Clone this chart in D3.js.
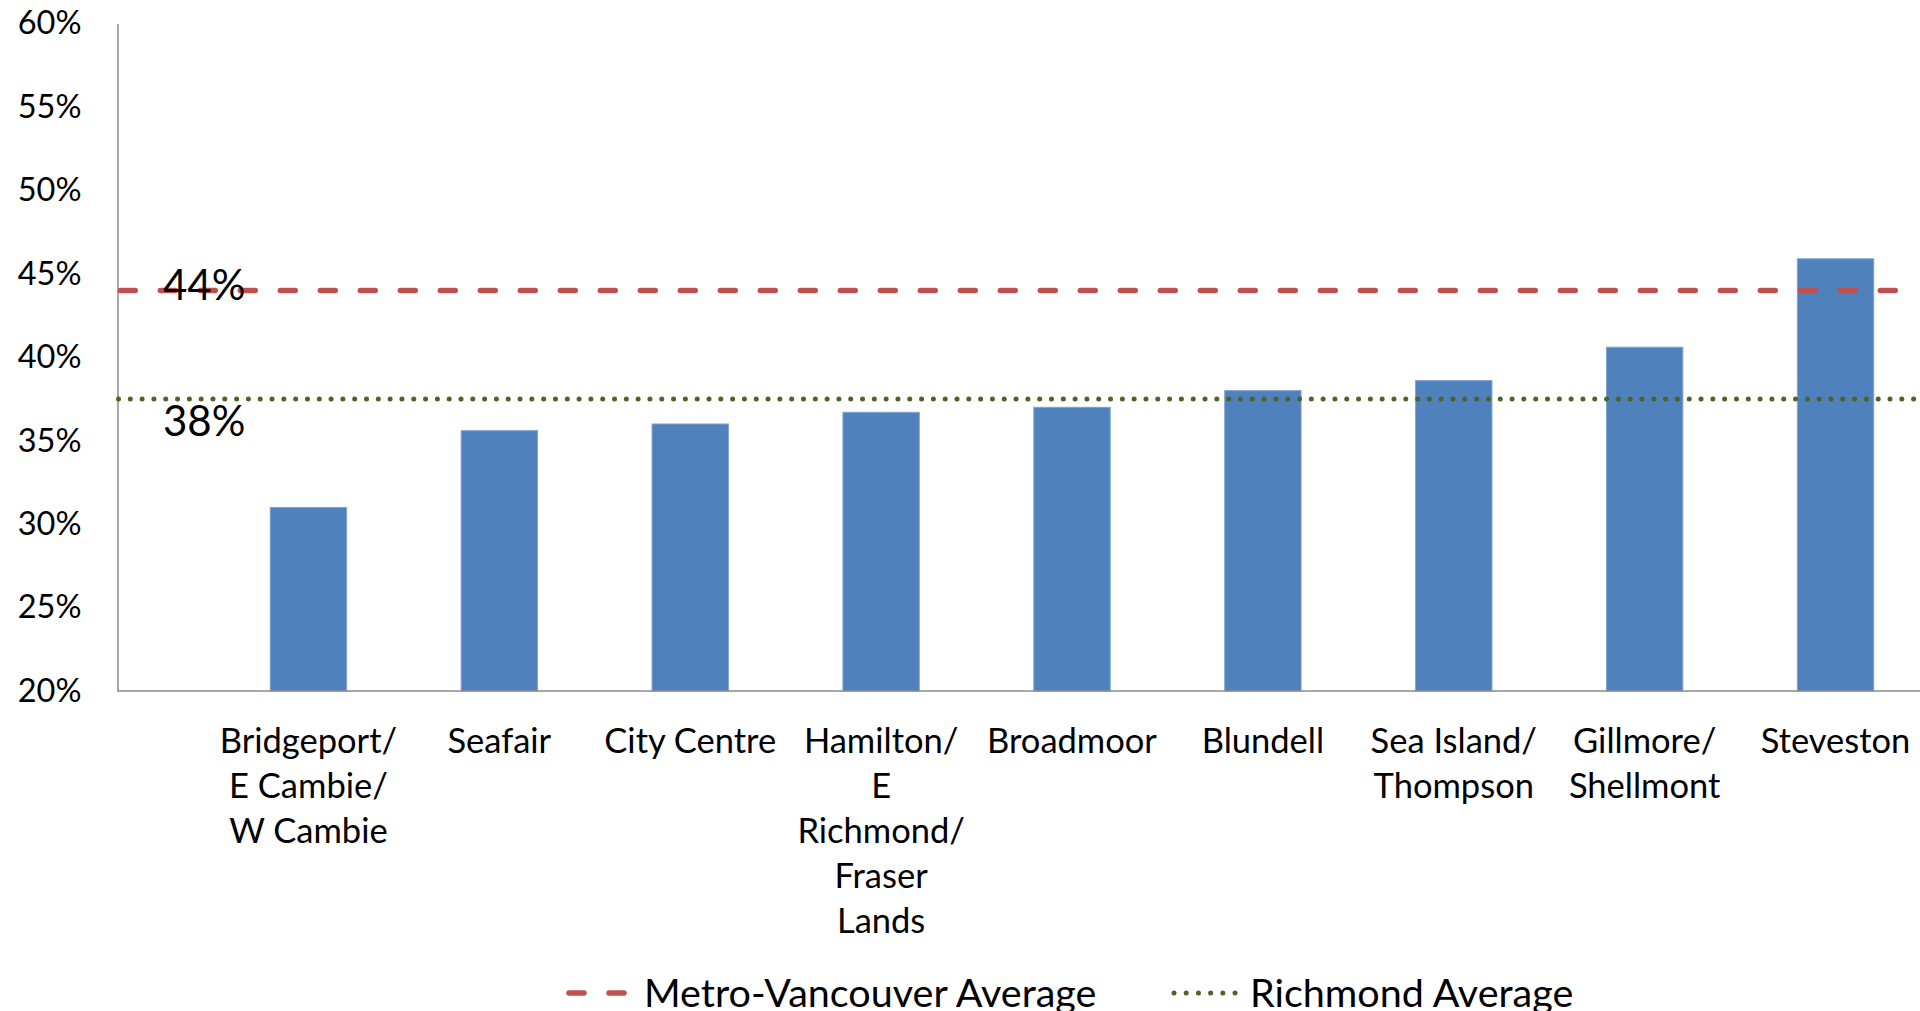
<!DOCTYPE html>
<html>
<head>
<meta charset="utf-8">
<script src="https://cdn.jsdelivr.net/npm/d3@7"></script>
<style>
  html, body { margin: 0; padding: 0; background: #fff; overflow: hidden; }
  svg { display: block; font-family: Lato, "Open Sans", sans-serif; }
</style>
</head>
<body>
<svg id="chart" width="1920" height="1011"></svg>
<script>
// Neighbourhood shares (fraction of households)
const categories = [
  "Bridgeport/\nE Cambie/\nW Cambie",
  "Seafair",
  "City Centre",
  "Hamilton/\nE\nRichmond/\nFraser\nLands",
  "Broadmoor",
  "Blundell",
  "Sea Island/\nThompson",
  "Gillmore/\nShellmont",
  "Steveston"
];
const values = [0.310, 0.356, 0.360, 0.367, 0.370, 0.380, 0.386, 0.406, 0.459];

// Reference averages
const metroAverage = 0.44;
const richmondAverage = 0.375;

// Axis ticks
const yTicks = [0.20, 0.25, 0.30, 0.35, 0.40, 0.45, 0.50, 0.55, 0.60];

const legendLabels = ["Metro-Vancouver Average", "Richmond Average"];

const W = 1920, H = 1011;
const axisX = 117.5, baseY = 691, topY = 23.5;

const svg = d3.select("#chart");
const pct = d3.format(".0%");

const y = d3.scaleLinear().domain([0.2, 0.6]).range([baseY, topY]);
const x = d3.scaleBand()
  .domain(categories)
  .range([213, 1931])
  .paddingInner(0.6)
  .paddingOuter(0.3);

// Bars
svg.append("g").selectAll("rect")
  .data(values)
  .join("rect")
  .attr("x", (d, i) => x(categories[i]))
  .attr("y", d => y(d))
  .attr("width", x.bandwidth())
  .attr("height", d => baseY - y(d))
  .attr("fill", "#4F81BD")
  .attr("stroke", "#7FA2D0")
  .attr("stroke-width", 1);

// Y axis
const yAxis = svg.append("g")
  .attr("transform", `translate(${axisX},0)`)
  .call(d3.axisLeft(y).tickValues(yTicks).tickFormat(pct).tickSize(0).tickSizeOuter(0).tickPadding(36));
yAxis.select(".domain").attr("stroke", "#8A8A8A").attr("stroke-width", 1.5);
yAxis.selectAll("text")
  .attr("font-family", "Lato, sans-serif")
  .attr("font-size", 32.5)
  .attr("fill", "#000");

// Baseline
svg.append("line")
  .attr("x1", axisX).attr("x2", W)
  .attr("y1", baseY).attr("y2", baseY)
  .attr("stroke", "#8A8A8A").attr("stroke-width", 1.5);

// Category labels
const xAxis = svg.append("g")
  .attr("transform", `translate(0,${baseY})`)
  .call(d3.axisBottom(x).tickSize(0).tickSizeOuter(0).tickFormat(""));
xAxis.select(".domain").remove();
xAxis.selectAll(".tick").each(function(d) {
  const t = d3.select(this).append("text")
    .attr("text-anchor", "middle")
    .attr("font-family", "Lato, sans-serif")
    .attr("font-size", 34.5)
    .attr("fill", "#000");
  d.split("\n").forEach((line, k) => {
    t.append("tspan").attr("x", 0).attr("y", 61.5 + k * 45.2).text(line);
  });
});

// Average lines
svg.append("line")
  .attr("x1", axisX + 2.8).attr("x2", W)
  .attr("y1", y(metroAverage)).attr("y2", y(metroAverage))
  .attr("stroke", "#C0504D").attr("stroke-width", 5.5)
  .attr("stroke-linecap", "round")
  .attr("stroke-dasharray", "15 25");

svg.append("line")
  .attr("x1", axisX + 1).attr("x2", W)
  .attr("y1", y(richmondAverage)).attr("y2", y(richmondAverage))
  .attr("stroke", "#4F6228").attr("stroke-width", 5)
  .attr("stroke-linecap", "round")
  .attr("stroke-dasharray", "0.01 11.8");

// Average value labels
svg.append("text")
  .attr("x", 163).attr("y", y(metroAverage) + 9)
  .attr("font-family", "Lato, sans-serif").attr("font-size", 42).attr("fill", "#000")
  .text(pct(metroAverage));
svg.append("text")
  .attr("x", 163).attr("y", y(richmondAverage) + 37)
  .attr("font-family", "Lato, sans-serif").attr("font-size", 42).attr("fill", "#000")
  .text(pct(richmondAverage));

// Legend
const legY = 993;
const leg = svg.append("g");
leg.append("line")
  .attr("x1", 569).attr("x2", 627)
  .attr("y1", legY).attr("y2", legY)
  .attr("stroke", "#C0504D").attr("stroke-width", 5.5)
  .attr("stroke-linecap", "round")
  .attr("stroke-dasharray", "15 25");
leg.append("text")
  .attr("x", 644).attr("y", legY + 14)
  .attr("font-family", "Lato, sans-serif").attr("font-size", 39.5).attr("fill", "#000")
  .text(legendLabels[0]);
leg.append("line")
  .attr("x1", 1174).attr("x2", 1236)
  .attr("y1", legY).attr("y2", legY)
  .attr("stroke", "#4F6228").attr("stroke-width", 5)
  .attr("stroke-linecap", "round")
  .attr("stroke-dasharray", "0.01 12.2");
leg.append("text")
  .attr("x", 1250).attr("y", legY + 14)
  .attr("font-family", "Lato, sans-serif").attr("font-size", 39.5).attr("fill", "#000")
  .text(legendLabels[1]);
</script>
</body>
</html>
